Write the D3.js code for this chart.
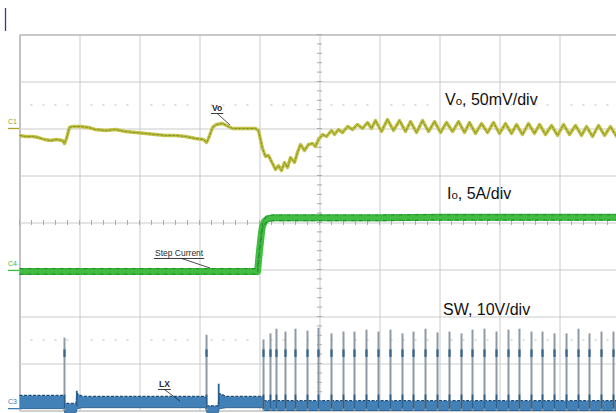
<!DOCTYPE html>
<html><head><meta charset="utf-8">
<script src="https://cdn.jsdelivr.net/npm/d3@7"></script>
<style>html,body{margin:0;padding:0;background:#fff;}svg{display:block;}</style>
</head><body>
<svg id="c" width="616" height="413"></svg>
<script>
// ---------- DATA (time in divisions, channel values in their own units) ----------
const timeDivs = [0,1,2,3,4,5,6,7,8,9,10];
const voltDivs = [-4,-3,-2,-1,0,1,2,3,4];
const markerRows = [2.5, -2.5];            // faint dotted marker rows (div)

// channel reference levels (div from screen centre) and scales (units/div)
const chanNames = ["C1", "C4", "C3"];
const chanRefs  = [2.0, -1.02, -3.96];
const chanScale = [50, 5, 10];              // mV/div, A/div, V/div
const chanColors = ["#a3a328", "#3db83d", "#3b78ae"];

// Vo : [time div, mV relative to C1 reference]
const voTrace = [
 [0,-7.4],[0.1,-8.5],[0.217,-8.5],[0.317,-9.6],[0.417,-11.7],[0.517,-12.8],[0.617,-11.7],[0.717,-12.8],
 [0.75,-16.0],[0.783,-10.6],[0.833,1.1],[0.883,2.1],[1.017,2.1],[1.15,1.1],[1.267,-1.1],[1.433,-2.1],
 [1.6,-1.1],[1.767,-3.2],[1.933,-4.3],[2.1,-5.3],[2.267,-6.4],[2.433,-7.4],[2.6,-7.4],[2.767,-8.5],
 [2.933,-10.6],[3.067,-11.7],[3.117,-14.9],[3.15,-10.6],[3.217,1.1],[3.283,4.3],[3.383,5.3],[3.483,2.1],
 [3.55,0],[3.683,0],[3.817,0],[3.933,0],[3.983,-2.1],[4.05,-21.3],[4.1,-29.8],[4.15,-28.7],[4.217,-37.2],
 [4.267,-43.6],[4.317,-39.4],[4.367,-44.7],[4.417,-36.2],[4.467,-41.5],[4.517,-30.9],[4.583,-36.2],
 [4.633,-25.5],[4.683,-17.0],[4.75,-23.4],[4.817,-17.0],[4.883,-16.0],[4.933,-19.1],[4.983,-11.7],
 [5.05,-6.4],[5.117,-8.5],[5.2,-2.1],[5.25,-6.4],[5.317,-1.1],[5.383,-4.3],[5.467,2.1],[5.55,-1.1],
 [5.633,4.3],[5.717,0],[5.8,6.4],[5.867,0],
 [5.933,8.5],[6.033,-3.2],[6.133,9.6],[6.233,-2.1],[6.333,8.5],[6.433,-3.2],[6.517,7.4],[6.617,-4.3],
 [6.717,8.5],[6.817,-3.2],[6.917,7.4],[7.017,-4.3],[7.117,6.4],[7.217,-3.2],[7.317,7.4],[7.417,-4.3],
 [7.5,6.4],[7.6,-5.3],[7.7,5.3],[7.8,-4.3],[7.9,6.4],[8.0,-5.3],[8.1,5.3],[8.2,-5.3],[8.283,4.3],
 [8.383,-6.4],[8.483,5.3],[8.583,-5.3],[8.667,4.3],[8.767,-6.4],[8.867,3.2],[8.967,-7.4],[9.067,4.3],
 [9.167,-6.4],[9.267,3.2],[9.367,-7.4],[9.45,2.1],[9.55,-8.5],[9.65,3.2],[9.75,-7.4],[9.85,2.1],[9.95,-8.5],[10,-6.0]
];

// Io : [time div, A relative to C4 reference]
const ioTrace = [
 [0,-0.1],[1,-0.1],[2,-0.1],[3,-0.1],[3.967,-0.1],[4.0,2.1],[4.033,4.0],[4.05,4.7],[4.083,5.2],
 [4.133,5.5],[4.233,5.6],[5,5.6],[6,5.6],[7,5.65],[8,5.65],[9,5.65],[10,5.65]
];

// SW (LX) switching pulses : time div, peak V
const swPulseT = [0.75,3.117,4.067,4.183,4.283,4.433,4.6,4.8,4.983,5.2,5.4,5.583,5.783,5.983,6.183,6.383,
 6.567,6.767,6.967,7.167,7.367,7.55,7.75,7.95,8.15,8.333,8.533,8.717,8.917,9.117,9.317,9.5,9.7,9.9];
const swPulseV = [15.1,15.7,14.7,16.0,17.0,16.4,17.0,16.6,17.2,16.0,16.4,16.4,16.8,16.4,16.8,16.0,
 16.4,17.0,16.2,16.4,16.0,16.8,17.0,16.4,16.8,17.0,16.4,16.4,16.0,16.0,17.0,16.0,16.4,16.4];
// SW ringing bumps : time div, V
const swRingT = [0.955, 3.32];
const swRingV = [3.8, 5.3];
// SW baseline noise band : [time div, low V, high V]
const lxBand = [
 [0,0.0,2.8],[0.74,0.0,2.8],[0.755,-0.9,1.1],[0.94,-0.9,1.1],[0.96,0.0,3.2],[1.05,0.2,2.6],
 [3.10,0.2,2.6],[3.125,-0.9,0.6],[3.31,-0.9,0.6],[3.33,0.0,3.2],[3.45,0.2,2.6],[4.05,0.2,2.6],
 [4.07,-0.4,1.7],[10,-0.4,1.7]
];

// big scale labels : [main, subscript, rest], anchor (time div, screen div)
const bigLabelMain = ["V", "I", "SW, 10V/div"];
const bigLabelSub  = ["o", "o", ""];
const bigLabelRest = [", 50mV/div", ", 5A/div", ""];
const bigLabelT = [7.1, 7.133, 7.067];
const bigLabelV = [2.489, 0.489, -1.979];

// probe annotations : text, text anchor (t, div), pointer target (t, div)
const noteText = ["Vo", "Step Current", "LX"];
const noteT = [3.217, 2.267, 2.333];
const noteV = [2.362, -0.723, -3.511];
const noteTipT = [3.517, 3.183, 2.683];
const noteTipV = [2.064, -0.979, -3.809];

// ---------- DRAWING ----------
const svg = d3.select("#c");
const xs = d3.scaleLinear().domain([0,10]).range([19,619]);
const ys = d3.scaleLinear().domain([-4,4]).range([410,34]);
const chY = (i, val) => ys(chanRefs[i] + val / chanScale[i]);
const font = "'Liberation Sans', Arial, Helvetica, sans-serif";

// top-left cursor bar
svg.append("line").attr("x1",5.5).attr("x2",5.5).attr("y1",8).attr("y2",31)
  .attr("stroke","#3f3a86").attr("stroke-width",1.3);

const g = svg.append("g").attr("transform","translate(0.5,0.5)");

// grid via axes
g.append("g").attr("transform",`translate(0,${ys(4)})`)
  .call(d3.axisBottom(xs).tickValues(timeDivs).tickSize(ys(-4)-ys(4)).tickFormat(""))
  .call(a=>{a.select(".domain").attr("stroke","#bdbdbd");a.selectAll(".tick line").attr("stroke","#cacaca");});
g.append("g").attr("transform",`translate(${xs(0)},0)`)
  .call(d3.axisRight(ys).tickValues(voltDivs).tickSize(xs(10)-xs(0)).tickFormat(""))
  .call(a=>{a.select(".domain").attr("stroke","#b0b0b0");a.selectAll(".tick line").attr("stroke","#cacaca");});

// minor ticks on centre lines
const minorX = d3.range(0, 10.001, 0.2);
const minorY = d3.range(-4, 4.001, 0.2);
g.append("g").selectAll("line").data(minorX).join("line")
  .attr("x1",d=>xs(d)).attr("x2",d=>xs(d)).attr("y1",ys(0)-2.5).attr("y2",ys(0)+2.5)
  .attr("stroke","#aaaaaa").attr("stroke-width",1);
g.append("g").selectAll("line").data(minorY).join("line")
  .attr("y1",d=>ys(d)).attr("y2",d=>ys(d)).attr("x1",xs(5)-2.5).attr("x2",xs(5)+2.5)
  .attr("stroke","#aaaaaa").attr("stroke-width",1);

// faint marker rows
markerRows.forEach(r=>{
  g.append("g").selectAll("rect").data(minorX.filter((d,i)=>i%5!==0)).join("rect")
    .attr("x",d=>xs(d)-1).attr("y",ys(r)-1).attr("width",2).attr("height",2)
    .attr("fill","#dedede");
});

// channel markers
chanNames.forEach((n,i)=>{
  const y = chY(i,0);
  svg.append("text").attr("x",8).attr("y",y-4).text(n)
    .attr("font-family",font).attr("font-size",7).attr("fill",chanColors[i]);
  svg.append("line").attr("x1",8).attr("x2",xs(0)).attr("y1",y+0.5).attr("y2",y+0.5)
    .attr("stroke",chanColors[i]).attr("stroke-width",1.3);
});

// ---- SW / LX channel ----
const bandArea = d3.area().x(d=>xs(d[0])).y0(d=>chY(2,d[1])).y1(d=>chY(2,d[2]));
g.append("path").datum(lxBand).attr("d",bandArea).attr("fill","#4281b8");
g.append("path").datum(lxBand).attr("d",d3.line().x(d=>xs(d[0])).y(d=>chY(2,d[2])))
  .attr("fill","none").attr("stroke","#1f4b73").attr("stroke-width",1.3).attr("stroke-dasharray","3,1.5");
g.append("path").datum(lxBand).attr("d",d3.line().x(d=>xs(d[0])).y(d=>chY(2,d[1])))
  .attr("fill","none").attr("stroke","#2f6594").attr("stroke-width",1);

// ringing bumps
g.append("g").selectAll("line").data(swRingT).join("line")
  .attr("x1",d=>xs(d)).attr("x2",d=>xs(d)).attr("y1",chY(2,0.5)).attr("y2",(d,i)=>chY(2,swRingV[i]))
  .attr("stroke","#2c5f8c").attr("stroke-width",1.8);

// pulses
const pg = g.append("g");
pg.selectAll("line.p").data(swPulseT).join("line").attr("class","p")
  .attr("x1",d=>xs(d)).attr("x2",d=>xs(d)).attr("y1",chY(2,-0.4)).attr("y2",(d,i)=>chY(2,swPulseV[i]))
  .attr("stroke","#8e9aa5").attr("stroke-width",2);
pg.selectAll("line.c").data(swPulseT).join("line").attr("class","c")
  .attr("x1",d=>xs(d)).attr("x2",d=>xs(d)).attr("y1",chY(2,11.0)).attr("y2",chY(2,12.6))
  .attr("stroke","#34658f").attr("stroke-width",2.2);
pg.selectAll("line.b").data(swPulseT).join("line").attr("class","b")
  .attr("x1",d=>xs(d)).attr("x2",d=>xs(d)).attr("y1",chY(2,0)).attr("y2",chY(2,3.0))
  .attr("stroke","#2d5f8a").attr("stroke-width",1.8);

// ---- Io channel ----
const ioLine = d3.line().x(d=>xs(d[0])).y(d=>chY(1,d[1]));
g.append("path").datum(ioTrace).attr("d",ioLine).attr("fill","none")
  .attr("stroke","#42bd42").attr("stroke-width",7).attr("stroke-linejoin","round");
[-2.8, 2.8].forEach(off=>{
  g.append("path").datum(ioTrace).attr("d",ioLine).attr("transform",`translate(0,${off})`)
    .attr("fill","none").attr("stroke","#23902f").attr("stroke-width",1.2)
    .attr("stroke-dasharray","4,1.5,1,1.5");
});

// ---- Vo channel ----
const voLine = d3.line().x(d=>xs(d[0])).y(d=>chY(0,d[1]));
g.append("path").datum(voTrace).attr("d",voLine).attr("fill","none")
  .attr("stroke","#c3c348").attr("stroke-width",3.4).attr("stroke-linejoin","round");
g.append("path").datum(voTrace).attr("d",voLine).attr("fill","none")
  .attr("stroke","#858f22").attr("stroke-width",1).attr("stroke-linejoin","round")
  .attr("stroke-dasharray","3,1");

// ---- annotations ----
noteText.forEach((t,i)=>{
  const x = xs(noteT[i]), y = ys(noteV[i]);
  const tx = svg.append("text").attr("x",x).attr("y",y).text(t)
    .attr("font-family",font).attr("font-size",8.5).attr("fill","#2a2a2a")
    .attr("font-weight", i===1 ? "normal" : "bold");
  const w = tx.node().getComputedTextLength();
  svg.append("line").attr("x1",x-1).attr("x2",x+w+1).attr("y1",y+2.5).attr("y2",y+2.5)
    .attr("stroke","#222").attr("stroke-width",0.9);
  svg.append("line").attr("x1",x+w*(i===1?0.55:0.5)).attr("y1",y+2.5)
    .attr("x2",xs(noteTipT[i])).attr("y2",ys(noteTipV[i]))
    .attr("stroke","#222").attr("stroke-width",0.8);
});

// ---- big labels ----
bigLabelMain.forEach((m,i)=>{
  const t = svg.append("text").attr("x",xs(bigLabelT[i])).attr("y",ys(bigLabelV[i]))
    .attr("font-family",font).attr("font-size",16).attr("fill","#111");
  t.append("tspan").text(m);
  if (bigLabelSub[i]) t.append("tspan").attr("font-size",11.5).text(bigLabelSub[i]);
  if (bigLabelRest[i]) t.append("tspan").text(bigLabelRest[i]);
});
</script>
</body></html>
